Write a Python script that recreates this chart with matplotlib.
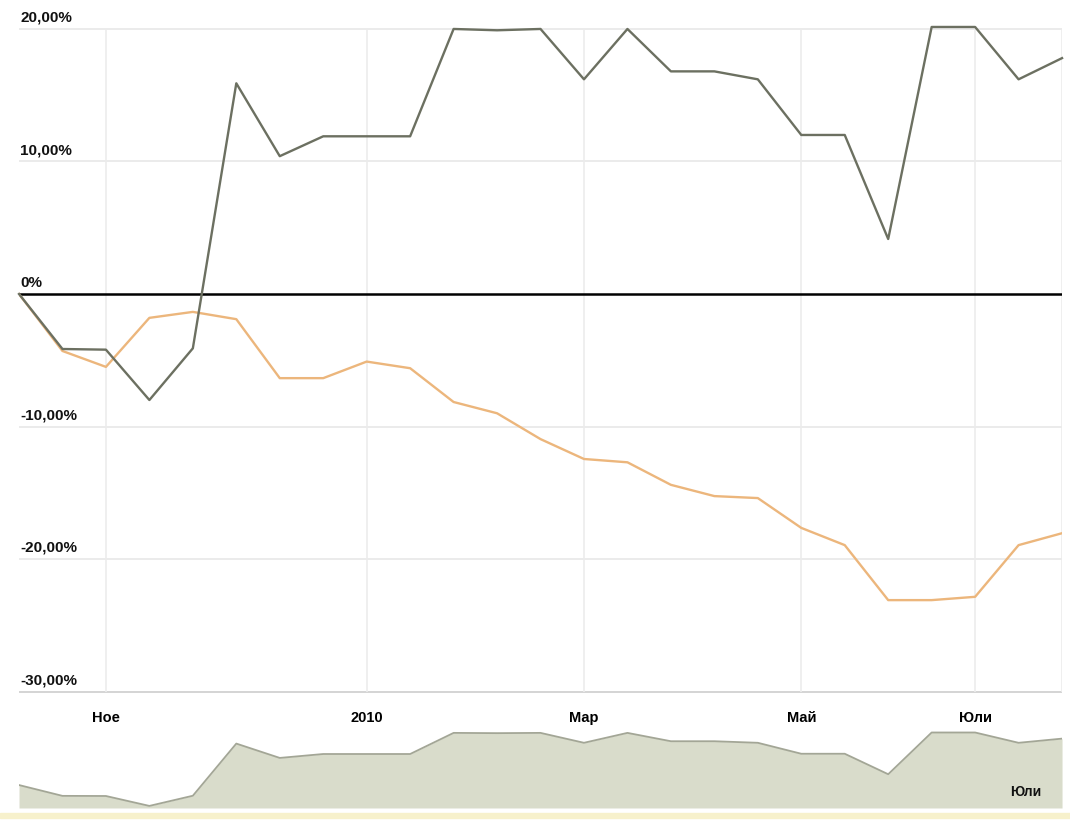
import matplotlib
matplotlib.use('Agg')
import matplotlib.pyplot as plt
from matplotlib.patches import Rectangle

plt.rcParams['font.family'] = ['Liberation Sans', 'DejaVu Sans']

# weekly points, relative change in percent
steps = list(range(25))
grey_pct = [0, -4.15, -4.2, -8.0, -4.1, 15.9, 10.4, 11.9, 11.9, 11.9,
            20.0, 19.9, 20.0, 16.2, 20.0, 16.8, 16.8, 16.2, 12.0, 12.0,
            4.15, 20.15, 20.15, 16.2, 17.8]
orange_pct = [0, -4.3, -5.5, -1.8, -1.35, -1.9, -6.35, -6.35, -5.1, -5.6,
              -8.15, -9.0, -10.95, -12.45, -12.7, -14.4, -15.25, -15.4, -17.65, -18.95,
              -23.1, -23.1, -22.85, -18.95, -18.05]

y_levels = [20, 10, 0, -10, -20, -30]
y_labels = ['20,00%', '10,00%', '0%', '-10,00%', '-20,00%', '-30,00%']
month_pos = [2, 8, 13, 18, 22]
month_labels = ['Ное', '2010', 'Мар', 'Май', 'Юли']

fig = plt.figure(figsize=(10.70, 8.24), dpi=100)
fig.patch.set_facecolor('white')

ax = fig.add_axes([0.01776, 0.1559, 0.9748, 0.8379])
ax.set_xlim(0, 24)
ax.set_ylim(-30.3, 21.8)
for s in ax.spines.values():
    s.set_visible(False)

# grid
for v in y_levels:
    if v == 0:
        continue
    ax.axhline(v, color='#e8e8e8' if v != -30 else '#cdcdcd', lw=1.2, zorder=1)
ax.vlines(month_pos + [24], -30, 20, color='#ececec', lw=1.2, zorder=1)
ax.axhline(0, color='black', lw=1.8, zorder=2)

ax.plot(steps, orange_pct, color='#ecb67c', lw=1.7, zorder=3)
ax.plot(steps, grey_pct, color='#6c7061', lw=1.7, zorder=4, clip_on=False)

ax.set_yticks([])
ax.set_xticks(month_pos)
ax.set_xticklabels(month_labels, fontsize=10.5, fontweight='bold')
ax.tick_params(axis='x', length=0, pad=11)

for v, lab in zip(y_levels, y_labels):
    ax.annotate(lab, xy=(0, v), xytext=(1, 3), textcoords='offset points',
                ha='left', va='bottom', fontsize=11, fontweight='bold', color='#111111')

# navigator strip
nav = fig.add_axes([0.01776, 0.01942, 0.9748, 0.0959])
nav.set_xlim(0, 24)
nav.set_ylim(-8.8, 21.5)
nav.fill_between(steps, grey_pct, -8.8, color='#d9dccb', lw=0)
nav.plot(steps, grey_pct, color='#a3a696', lw=1.3)
nav.axis('off')
nav.text(0.965, 0.12, 'Юли', transform=nav.transAxes, ha='center', va='bottom',
         fontsize=10, fontweight='bold', color='#111111')

# pale band along the bottom edge
fig.patches.append(Rectangle((0, 0.007), 1, 0.006, transform=fig.transFigure,
                             color='#f7f1cc', zorder=0))

fig.savefig('out.png', dpi=100, facecolor='white')
